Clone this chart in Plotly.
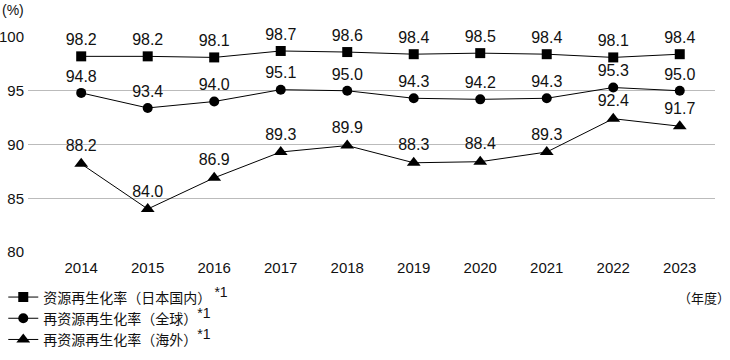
import plotly.graph_objects as go

years = ["2014", "2015", "2016", "2017", "2018", "2019", "2020", "2021", "2022", "2023"]
japan = [98.2, 98.2, 98.1, 98.7, 98.6, 98.4, 98.5, 98.4, 98.1, 98.4]
world = [94.8, 93.4, 94.0, 95.1, 95.0, 94.3, 94.2, 94.3, 95.3, 95.0]
overseas = [88.2, 84.0, 86.9, 89.3, 89.9, 88.3, 88.4, 89.3, 92.4, 91.7]
SUP = "<sup><span style='font-size:14px;font-family:Liberation Sans'>*1</span></sup>"
names = ["资源再生化率（日本国内） " + SUP,
         "再资源再生化率（全球）" + SUP,
         "再资源再生化率（海外）" + SUP]
yticks = [80, 85, 90, 95, 100]

FONT = "Liberation Sans, Arial, Noto Sans CJK SC, sans-serif"
CJK = "Noto Sans CJK SC, sans-serif"
fig = go.Figure()
for vals, sym, size, name in [(japan, "square", 10, names[0]),
                              (world, "circle", 10, names[1]),
                              (overseas, "triangle-up", 12, names[2])]:
    fig.add_trace(go.Scatter(
        x=years, y=vals, mode="lines+markers+text", name=name,
        line=dict(color="black", width=1),
        marker=dict(symbol=sym, size=size, color="black"),
        text=[f"{v:.1f}" for v in vals], textposition="top center",
        textfont=dict(size=16, color="#111", family=FONT),
        cliponaxis=False,
    ))

fig.update_layout(
    width=730, height=360,
    margin=dict(l=28, r=15, t=37, b=108, autoexpand=False),
    paper_bgcolor="white", plot_bgcolor="white",
    font=dict(family=FONT, size=15, color="#111"),
    showlegend=True,
    legend=dict(x=-0.036, xanchor="left", y=-0.137, yanchor="top",
                font=dict(size=14, family=CJK, color="#111"),
                tracegroupgap=0, itemwidth=30, bgcolor="rgba(0,0,0,0)"),
    xaxis=dict(type="category", range=[-0.8, 9.53], showgrid=False, zeroline=False,
               showline=False, ticks="", tickfont=dict(size=15), fixedrange=True,
               ticklabelstandoff=5),
    yaxis=dict(range=[80, 100], tickvals=yticks, showgrid=True, gridcolor="#bbbbbb",
               gridwidth=1, zeroline=False, showline=False, ticks="",
               tickfont=dict(size=15), ticklabelstandoff=3, fixedrange=True),
    annotations=[
        dict(text="(%)", xref="paper", yref="paper", x=-0.041, y=1.125, xanchor="left",
             yanchor="middle", showarrow=False, font=dict(size=14)),
        dict(text="（年度）", xref="paper", yref="paper", x=1.025, y=-0.21, xanchor="right",
             yanchor="middle", showarrow=False, font=dict(size=13, family=CJK)),
    ],
)
fig.write_html("out.html", config={"displayModeBar": False},
               post_script="document.body.style.margin='0';")
